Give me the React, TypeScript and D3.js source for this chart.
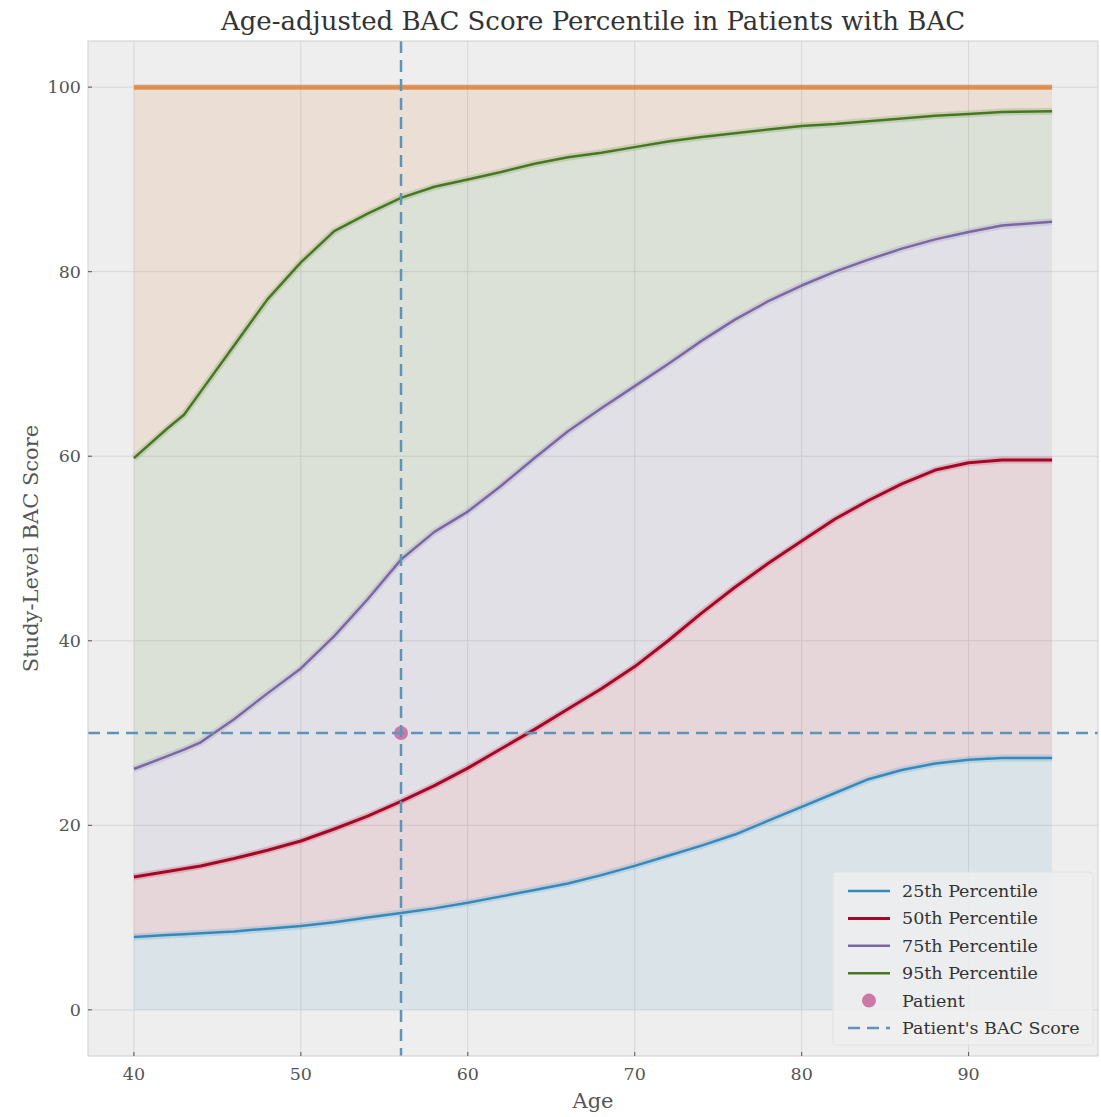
import React from 'react';
import * as d3 from 'd3';

const ages = [40, 42, 43, 44, 46, 48, 50, 52, 54, 56, 58, 60, 62, 64, 66, 68, 70, 72, 74, 76, 78, 80, 82, 84, 86, 88, 90, 92, 95];
const p25 = [7.9, 8.1, 8.2, 8.3, 8.5, 8.8, 9.1, 9.5, 10.0, 10.5, 11.0, 11.6, 12.3, 13.0, 13.7, 14.6, 15.6, 16.7, 17.8, 19.0, 20.5, 22.0, 23.5, 25.0, 26.0, 26.7, 27.1, 27.3, 27.3];
const p50 = [14.4, 15.0, 15.3, 15.6, 16.4, 17.3, 18.3, 19.6, 21.0, 22.6, 24.3, 26.2, 28.3, 30.4, 32.6, 34.8, 37.2, 40.0, 43.0, 45.8, 48.4, 50.8, 53.2, 55.2, 57.0, 58.5, 59.3, 59.6, 59.6];
const p75 = [26.1, 27.5, 28.2, 29.0, 31.5, 34.3, 37.0, 40.5, 44.5, 48.8, 51.8, 54.0, 56.8, 59.8, 62.7, 65.2, 67.6, 70.0, 72.5, 74.8, 76.8, 78.5, 80.0, 81.3, 82.5, 83.5, 84.3, 85.0, 85.4];
const p95 = [59.8, 63.0, 64.5, 67.0, 72.0, 77.0, 81.0, 84.4, 86.3, 88.0, 89.2, 90.0, 90.8, 91.7, 92.4, 92.9, 93.5, 94.1, 94.6, 95.0, 95.4, 95.8, 96.0, 96.3, 96.6, 96.9, 97.1, 97.3, 97.4];
const topValue = 100;

const patientAge = 56;
const patientScore = 30;

const xTicks = [40, 50, 60, 70, 80, 90];
const yTicks = [0, 20, 40, 60, 80, 100];

const seriesNames = ['25th Percentile', '50th Percentile', '75th Percentile', '95th Percentile'];
const seriesColors = ['#348ABD', '#A60628', '#7A68A6', '#467821'];
const topColor = '#D55E00';
const patientColor = '#CC79A7';
const dashColor = '#5f93b8';

const W = 1101;
const H = 1117;
const margin = {top: 41, right: 3, bottom: 61, left: 88};
const font = '"DejaVu Serif", serif';

export default function App() {
    const x = d3.scaleLinear().domain([37.25, 97.75]).range([margin.left, W - margin.right]);
    const y = d3.scaleLinear().domain([-5, 105]).range([H - margin.bottom, margin.top]);

    const series = [p25, p50, p75, p95];
    const bounds = [ages.map(() => 0), p25, p50, p75, p95, ages.map(() => topValue)];
    const fillColors = [...seriesColors, topColor];

    const area = (lo: number[], hi: number[]) =>
        d3.area<number>()
            .x(i => x(ages[i]))
            .y0(i => y(lo[i]))
            .y1(i => y(hi[i]))(ages.map((_, i) => i)) || '';

    const line = (vals: number[]) =>
        d3.line<number>()
            .x(i => x(ages[i]))
            .y(i => y(vals[i]))(ages.map((_, i) => i)) || '';

    const x0 = margin.left, x1 = W - margin.right;
    const y0 = margin.top, y1 = H - margin.bottom;

    const legendX = 833, legendY = 872, rowH = 27.4;
    const legendItems = [
        ...seriesNames.map((n, i) => ({name: n, kind: 'line', color: seriesColors[i]})),
        {name: 'Patient', kind: 'dot', color: patientColor},
        {name: "Patient's BAC Score", kind: 'dash', color: dashColor},
    ];

    return (
        <svg width={W} height={H} style={{position: 'absolute', left: 0, top: 0, background: '#fff'}} fontFamily={font}>
            <text x={(x0 + x1) / 2} y={30} textAnchor="middle" fontSize={26} fill="#333">
                Age-adjusted BAC Score Percentile in Patients with BAC
            </text>

            <rect x={x0} y={y0} width={x1 - x0} height={y1 - y0} fill="#eeeeee" />
            <clipPath id="plot">
                <rect x={x0} y={y0} width={x1 - x0} height={y1 - y0} />
            </clipPath>

            {/* grid */}
            {xTicks.map(t => (
                <line key={'gx' + t} x1={x(t)} x2={x(t)} y1={y0} y2={y1} stroke="#d6d6d6" strokeWidth={1} />
            ))}
            {yTicks.map(t => (
                <line key={'gy' + t} x1={x0} x2={x1} y1={y(t)} y2={y(t)} stroke="#d6d6d6" strokeWidth={1} />
            ))}

            <g clipPath="url(#plot)">
                {/* bands between percentiles */}
                {fillColors.map((c, i) => (
                    <path key={'a' + i} d={area(bounds[i], bounds[i + 1])} fill={c} fillOpacity={0.1} />
                ))}

                {/* 100 line */}
                <line x1={x(ages[0])} x2={x(ages[ages.length - 1])} y1={y(topValue)} y2={y(topValue)}
                      stroke={topColor} strokeOpacity={0.6} strokeWidth={5} />

                {/* percentile lines with soft halo */}
                {series.map((s, i) => (
                    <g key={'l' + i}>
                        <path d={line(s)} fill="none" stroke={seriesColors[i]} strokeOpacity={0.18} strokeWidth={7} />
                        <path d={line(s)} fill="none" stroke={seriesColors[i]} strokeWidth={i === 1 ? 3 : 2.5}
                              strokeLinejoin="round" />
                    </g>
                ))}

                <circle cx={x(patientAge)} cy={y(patientScore)} r={7} fill={patientColor} />
                <line x1={x0} x2={x1} y1={y(patientScore)} y2={y(patientScore)} stroke={dashColor}
                      strokeWidth={2.5} strokeDasharray="12,7" />
                <line x1={x(patientAge)} x2={x(patientAge)} y1={y0} y2={y1} stroke={dashColor}
                      strokeWidth={2.5} strokeDasharray="12,7" />
            </g>

            <rect x={x0} y={y0} width={x1 - x0} height={y1 - y0} fill="none" stroke="#cfcfcf" strokeWidth={1} />

            {/* x axis */}
            {xTicks.map(t => (
                <g key={'tx' + t}>
                    <line x1={x(t)} x2={x(t)} y1={y1} y2={y1 - 4} stroke="#555" strokeWidth={1} />
                    <text x={x(t)} y={y1 + 24} textAnchor="middle" fontSize={17.5} fill="#555">{t}</text>
                </g>
            ))}
            <text x={(x0 + x1) / 2} y={1108} textAnchor="middle" fontSize={21} fill="#555">Age</text>

            {/* y axis */}
            {yTicks.map(t => (
                <g key={'ty' + t}>
                    <line x1={x0} x2={x0 + 4} y1={y(t)} y2={y(t)} stroke="#555" strokeWidth={1} />
                    <text x={x0 - 7} y={y(t) + 6} textAnchor="end" fontSize={17.5} fill="#555">{t}</text>
                </g>
            ))}
            <text transform={`translate(38, ${(y0 + y1) / 2}) rotate(-90)`} textAnchor="middle" fontSize={21} fill="#555">
                Study-Level BAC Score
            </text>

            {/* legend */}
            <rect x={legendX} y={legendY} width={260} height={173} rx={3} fill="#eeeeee" fillOpacity={0.85}
                  stroke="#e2e2e2" />
            {legendItems.map((it, i) => {
                const cy = legendY + 19 + i * rowH;
                return (
                    <g key={'lg' + i}>
                        {it.kind === 'line' && (
                            <line x1={legendX + 15} x2={legendX + 57} y1={cy} y2={cy} stroke={it.color}
                                  strokeWidth={i === 1 ? 3 : 2.5} />
                        )}
                        {it.kind === 'dot' && <circle cx={legendX + 36} cy={cy} r={7} fill={it.color} />}
                        {it.kind === 'dash' && (
                            <line x1={legendX + 15} x2={legendX + 57} y1={cy} y2={cy} stroke={it.color}
                                  strokeWidth={2.5} strokeDasharray="12,7" />
                        )}
                        <text x={legendX + 69} y={cy + 6} fontSize={17.5} fill="#333">{it.name}</text>
                    </g>
                );
            })}
        </svg>
    );
}
